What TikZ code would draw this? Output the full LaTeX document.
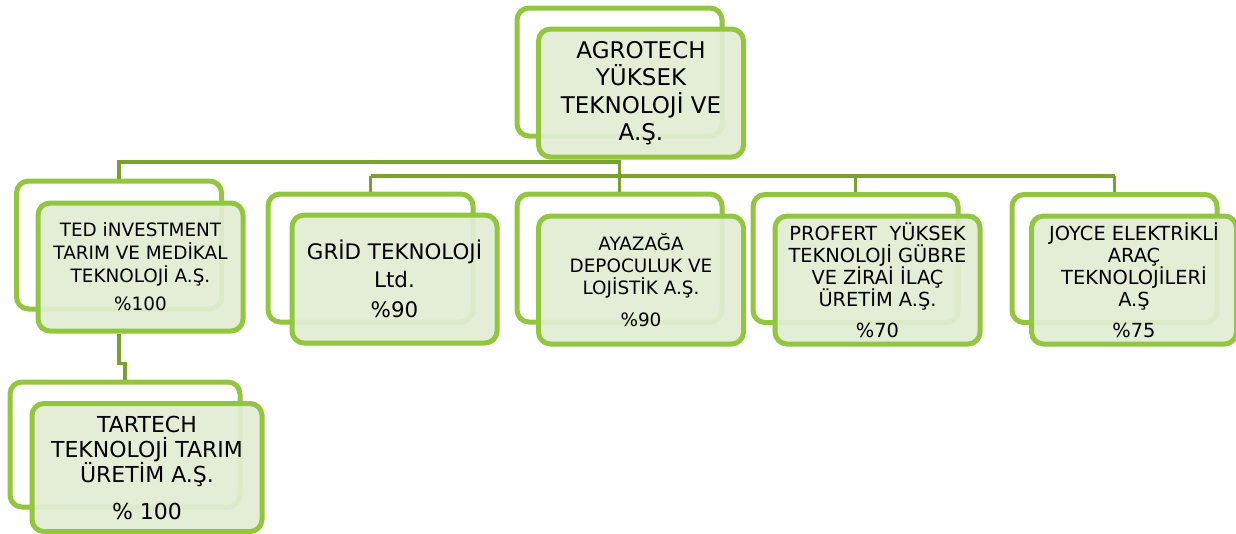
\documentclass[tikz,border=0pt]{standalone}
\usepackage{fontspec}
\setmainfont{DejaVu Sans}
\definecolor{leaf}{RGB}{146,198,62}
\definecolor{stem}{RGB}{122,160,46}
\definecolor{paleleaf}{RGB}{226,237,212}
\begin{document}
\begin{tikzpicture}[x=1pt, y=-1pt,
		frame/.style = {draw=leaf, line width=5pt, rounded corners=12pt, minimum width=205pt, minimum height=128pt, inner sep=0pt},
		unit/.style = {frame, fill=paleleaf, fill opacity=0.93, text opacity=1, align=center},
		link/.style = {draw=stem, line width=3.5pt}]
				\useasboundingbox (0,0) rectangle (1236,533);

				% back frames
				\node[frame] (agrob) at (619.5,72) {};
				\node[frame] (tedb) at (119,245) {};
				\node[frame] (gridb) at (370.5,258) {};
				\node[frame] (ayazb) at (619.5,258) {};
				\node[frame] (profertb) at (855.5,258.5) {};
				\node[frame] (joyceb) at (1114.5,258.5) {};
				\node[frame, minimum width=230pt, minimum height=125pt] (tartechb) at (125,444.5) {};

				% front boxes
				\node[unit, font=\fontsize{23}{27.5}\selectfont] (agro) at (641,93)
					{AGROTECH\\YÜKSEK\\TEKNOLOJİ VE\\A.Ş.};
				\node[unit, font=\fontsize{18.4}{23}\selectfont] (ted) at (140.5,267)
					{TED iNVESTMENT\\TARIM VE MEDİKAL\\TEKNOLOJİ A.Ş.\\[5pt]\%100};
				\node[unit, font=\fontsize{21.4}{28}\selectfont] (grid) at (394.5,279)
					{GRİD TEKNOLOJİ\\Ltd.\\[2pt]\%90};
				\node[unit, font=\fontsize{18.4}{22}\selectfont] (ayaz) at (641,280)
					{AYAZAĞA\\DEPOCULUK VE\\LOJİSTİK A.Ş.\\[10pt]\%90};
				\node[unit, font=\fontsize{19.4}{22}\selectfont] (profert) at (877.5,280)
					{PROFERT\ \ YÜKSEK\\TEKNOLOJİ GÜBRE\\VE ZİRAİ İLAÇ\\ÜRETİM A.Ş.\\[9pt]\%70};
				\node[unit, font=\fontsize{19.4}{22}\selectfont] (joyce) at (1134,280)
					{JOYCE ELEKTRİKLİ\\ARAÇ\\TEKNOLOJİLERİ\\A.Ş\\[9pt]\%75};
				\node[unit, minimum width=230pt, font=\fontsize{22}{25}\selectfont] (tartech) at (147,467.5)
					{TARTECH\\TEKNOLOJİ TARIM\\ÜRETİM A.Ş.\\[12pt]\% 100};

				% connectors
				\coordinate (busA) at (0,162);
				\coordinate (busB) at (0,176);
				\draw[link] (agrob.south |- agro.south) -- (ayazb.north);
				\draw[link] (agrob.south |- busA) -| (tedb.north);
				\draw[link] (busB -| gridb.north) -- (busB -| joyceb.north);
				\foreach \n in {gridb, profertb, joyceb}
					\draw[link] (busB -| \n.north) -- (\n.north);
				\draw[link] (tedb.south |- ted.south) -- ++(0,30) -| (tartechb.north);

			\end{tikzpicture}
\end{document}
